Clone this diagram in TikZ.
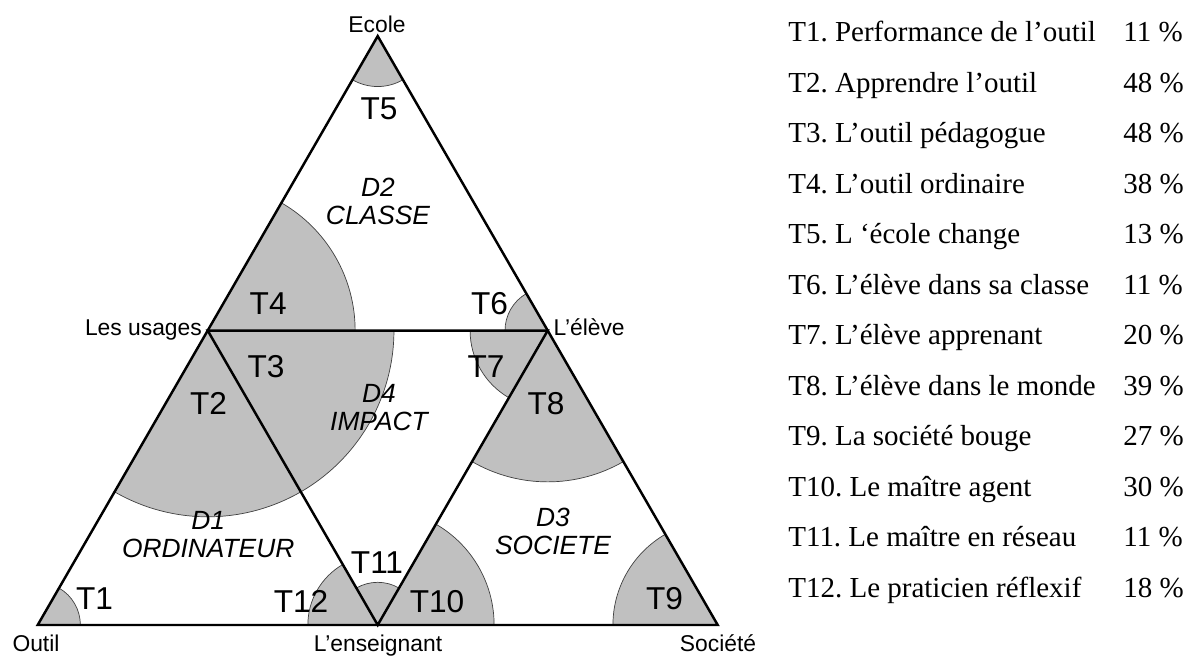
\documentclass[tikz,border=0pt]{standalone}
\usepackage{fontspec}
\setmainfont{Liberation Serif}
\setsansfont{Liberation Sans}
\usepackage{tikz}
\usetikzlibrary{calc}
\definecolor{sectgray}{RGB}{192,192,192}
\frenchspacing

\begin{document}
\begin{tikzpicture}[
  sector/.style={fill=sectgray, draw=black!75, line width=0.4pt},
  edge/.style={line width=1.4pt, line join=miter},
  tlab/.style={font=\sffamily\fontsize{18}{20}\selectfont, inner sep=0pt},
  dlab/.style={font=\sffamily\itshape\fontsize{15}{16}\selectfont, align=center, inner sep=0pt},
  vlab/.style={font=\sffamily\fontsize{13}{14}\selectfont, inner sep=0pt, anchor=base},
  keyitem/.style={font=\fontsize{16.5}{18}\selectfont, inner sep=0pt, anchor=base west}
]
  \useasboundingbox (-0.754,-0.64) rectangle (22.946,12.5);

  % corners of the big triangle and the midpoints
  \coordinate (outil) at (0,0);
  \coordinate (societe) at (13.6,0);
  \coordinate (ecole) at (6.8,11.778);
  \coordinate (usages) at (3.4,5.889);
  \coordinate (eleve) at (10.2,5.889);
  \coordinate (enseignant) at (6.8,0);

  % sectors, radius follows the percentage
  \foreach \v/\a/\p in {outil/0/11, usages/240/48, usages/300/48, usages/0/38,
      ecole/240/13, eleve/120/11, eleve/180/20, eleve/240/39,
      societe/120/27, enseignant/0/30, enseignant/60/11, enseignant/120/18}
    \filldraw[sector] (\v) -- ++(\a:{\p*0.0776}) arc[start angle=\a, delta angle=60, radius={\p*0.0776}] -- cycle;

  \draw[edge] (outil) -- (societe) -- (ecole) -- cycle;
  \draw[edge] (usages) -- (eleve) -- (enseignant) -- cycle;

  \node[vlab] (l-ecole) at (6.786,11.84) {Ecole};
  \node[vlab] (l-outil) at (-0.034,-0.54) {Outil};
  \node[vlab] (l-ens) at (6.806,-0.54) {L’enseignant};
  \node[vlab] (l-soc) at (13.606,-0.54) {Société};
  \node[vlab, anchor=base east] (l-usages) at (3.29,5.79) {Les usages};
  \node[vlab, anchor=base west] (l-eleve) at (10.31,5.79) {L’élève};

  \foreach \n/\x/\y in {T1/1.136/0.52, T2/3.416/4.44, T3/4.566/5.16, T4/4.61/6.42,
      T5/6.826/10.32, T6/9.036/6.43, T7/8.966/5.16, T8/10.166/4.42,
      T9/12.536/0.53, T10/7.986/0.46, T11/6.786/1.24, T12/5.266/0.48}
    \node[tlab] (\n) at (\x,\y) {\n};

  \node[dlab] (d1) at (3.41,1.8) {D1\\ORDINATEUR};
  \node[dlab] (d2) at (6.806,8.48) {D2\\CLASSE};
  \node[dlab] (d3) at (10.306,1.88) {D3\\SOCIETE};
  \node[dlab] (d4) at (6.826,4.34) {D4\\IMPACT};

  % legend
  \foreach \t/\p [count=\i] in {T1. Performance de l’outil/11, T2. Apprendre l’outil/48,
      T3. L’outil pédagogue/48, T4. L’outil ordinaire/38, T5. L ‘école change/13,
      T6. L’élève dans sa classe/11, T7. L’élève apprenant/20, T8. L’élève dans le monde/39,
      T9. La société bouge/27, T10. Le maître agent/30, T11. Le maître en réseau/11,
      T12. Le praticien réflexif/18} {
    \node[keyitem] (k\i) at (15.006,{11.666-1.01*(\i-1)}) {\t};
    \node[keyitem] (p\i) at (21.706,{11.666-1.01*(\i-1)}) {\p~\%};
  }
\end{tikzpicture}
\end{document}
